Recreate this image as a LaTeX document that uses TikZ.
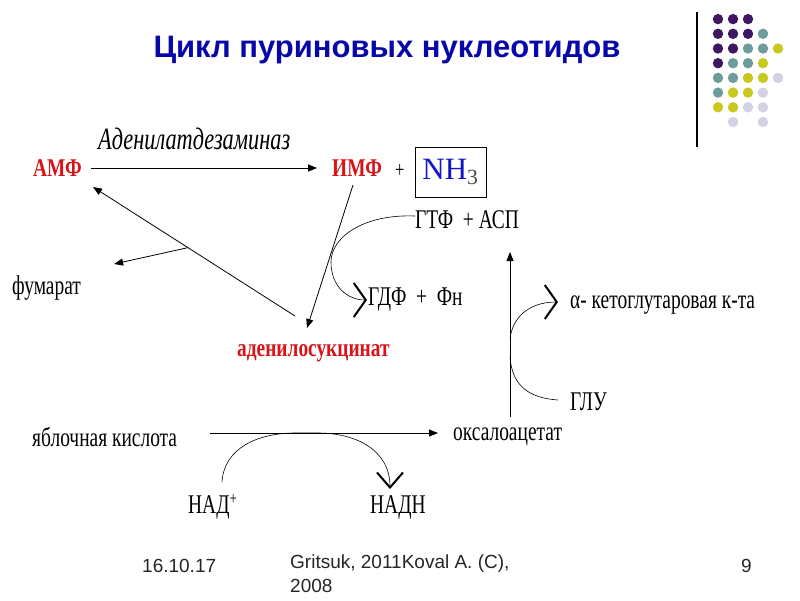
\documentclass[tikz,border=0pt]{standalone}
\usepackage{fontspec}
\setmainfont{Liberation Serif}
\newfontfamily\narrowserif[FakeStretch=0.72]{Liberation Serif}
\newfontfamily\narrowbold[FakeStretch=0.76]{Liberation Serif Bold}
\newfontfamily\slidesans{Liberation Sans}
\usetikzlibrary{arrows.meta,calc}
\definecolor{titleblue}{RGB}{8,8,170}
\definecolor{nhblue}{RGB}{20,20,200}
\definecolor{keyred}{RGB}{215,20,25}
\definecolor{dotpurple}{RGB}{62,22,100}
\definecolor{dotteal}{RGB}{108,156,156}
\definecolor{dotyellow}{RGB}{200,200,30}
\definecolor{dotlilac}{RGB}{210,210,228}
\tikzset{
  met/.style={inner sep=0pt, anchor=west, font=\narrowserif\fontsize{27}{29}\selectfont},
  keymet/.style={met, text=keyred, font=\narrowbold\fontsize{25.5}{28}\selectfont},
  rxn/.style={-{Triangle[length=9pt,width=7pt]}, line width=0.8pt},
  side/.style={-{Straight Barb[length=12pt,width=34pt,line width=2pt]}, line width=0.6pt},
  foot/.style={inner sep=0pt, anchor=west, text=black!85, font=\slidesans\fontsize{19}{24}\selectfont},
}

\begin{document}
\begin{tikzpicture}[x=1pt,y=-1pt]
			%%%%% START %%%%%
			\useasboundingbox[fill=white] (0,0) rectangle (800,600);
			
			\node[text=titleblue, font=\slidesans\bfseries\fontsize{31}{34}\selectfont] (title) at (387,50) {Цикл пуриновых нуклеотидов};
			
			\draw[line width=1.2pt] (697,12) -- (697,147);
			\foreach \c/\r/\col in {1/1/dotpurple, 2/1/dotpurple, 3/1/dotpurple,
			  1/2/dotpurple, 2/2/dotpurple, 3/2/dotpurple, 4/2/dotteal,
			  1/3/dotpurple, 2/3/dotpurple, 3/3/dotteal, 4/3/dotteal, 5/3/dotyellow,
			  1/4/dotpurple, 2/4/dotteal, 3/4/dotteal, 4/4/dotyellow,
			  1/5/dotteal, 2/5/dotteal, 3/5/dotyellow, 4/5/dotyellow, 5/5/dotlilac,
			  1/6/dotteal, 2/6/dotyellow, 3/6/dotyellow, 4/6/dotlilac,
			  1/7/dotyellow, 2/7/dotyellow, 3/7/dotlilac, 4/7/dotlilac,
			  2/8/dotlilac, 4/8/dotlilac}
			  \fill[\col] ({703+15*\c},{4.4+14.7*\r}) circle (5.2);
			
			% top row
			\node[keymet] (amp) at (33,168) {АМФ};
			\node[keymet] (imp) at (332,168) {ИМФ};
			\node[met, font=\narrowserif\fontsize{23}{25}\selectfont] (plus) at (395,171) {+};
			\node[draw, line width=0.8pt, minimum width=71pt, minimum height=50pt, inner sep=0pt,
			  font=\fontsize{31}{33}\selectfont] (nh) at (450.5,172) {\textcolor{nhblue}{NH}\textcolor{black!70}{\textsubscript{3}}};
			\node[met, font=\narrowserif\itshape\fontsize{31}{33}\selectfont] (enz) at (98,139) {Аденилатдезаминаз};
			\draw[rxn] ([xshift=9pt]amp.east) -- ([xshift=-15pt]imp.west);
			
			\node[met] (fum) at (12,288) {фумарат};
			\node[keymet] (ads) at (237,353) {аденилосукцинат};
			\node[met] (gtp) at (415,220) {ГТФ~~+ АСП};
			\node[met] (gdp) at (368,300) {ГДФ~~+~~Фн};
			\node[met] (akg) at (570,305) {α- кетоглутаровая к-та};
			\node[met] (glu) at (570,402) {ГЛУ};
			\node[met] (oaa) at (453,437) {оксалоацетат};
			\node[met] (mal) at (32,437) {яблочная кислота};
			\node[met] (nad) at (188,507) {НАД\textsuperscript{\fontsize{18}{18}\selectfont+}};
			\node[met] (nadh) at (370,507) {НАДН};
			
			\coordinate (adsout) at ($(ads.west)+(58,-37)$);
			\coordinate (ampin) at ($(amp.west)+(60,19)$);
			\draw[rxn] ($(imp.west)+(21,17)$) -- ($(ads.west)+(70,-25)$);
			\draw[rxn] (adsout) -- (ampin);
			\draw[rxn] ($(adsout)!0.53!(ampin)$) -- ($(fum.east)+(33,-24)$);
			
			\draw[side] ($(gtp.west)+(0,-4)$) .. controls (362,214) and (331,238) .. (331,262)
			  .. controls (331,287) and (348,300) .. ($(gdp.west)+(-1,0)$);
			
			\draw[rxn] ($(oaa.west)+(57,-20)$) -- ++(0,-165);
			\draw[side] ($(oaa.west)+(57,-99)$) .. controls (514,312) and (535,302) .. ($(akg.west)+(-12,-3)$);
			\draw[line width=0.6pt] ($(glu.west)+(-12,-2)$) .. controls (528,398) and (512,385) .. ($(oaa.west)+(57,-80)$);
			
			\draw[rxn] ($(mal.east)+(33,-4)$) -- ($(oaa.west)+(-15,-4)$);
			\draw[line width=0.6pt, -{Straight Barb[length=15pt,width=26pt,line width=2pt]}]
			  ($(nad.west)+(34,-25)$) .. controls (224,448) and (258,433) .. (295,433) -- (318,433)
			  .. controls (356,433) and (390,450) .. ($(nadh.west)+(20,-18)$);
			
			% footer
			\node[foot] (date) at (142,566) {16.10.17};
			\node[foot, align=left, anchor=north west] (auth) at (290,555) {Gritsuk, 2011Koval A. (C),\\2008};
			\node[foot] (page) at (741,566) {9};
			%%%%% END %%%%%
\end{tikzpicture}
\end{document}
